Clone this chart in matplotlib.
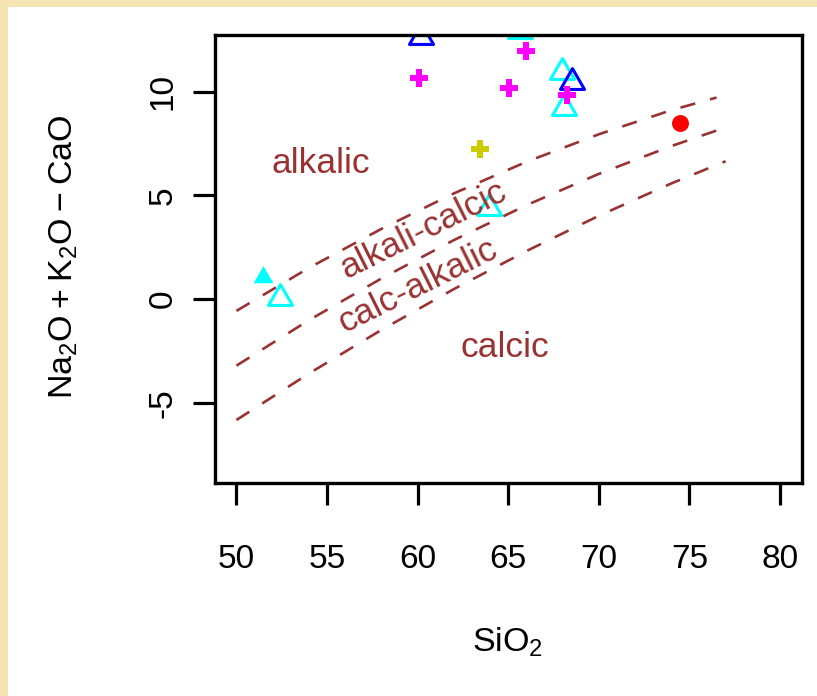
import matplotlib
matplotlib.use("Agg")
import matplotlib.pyplot as plt
from matplotlib.patches import Rectangle
from matplotlib.path import Path

plt.rcParams['font.family'] = ['Liberation Sans', 'DejaVu Sans']
plt.rcParams['axes.unicode_minus'] = False

# boundary curves (dashed)
bnd1_x = [50, 54, 58, 62, 66, 70, 74, 76.5]
bnd1_y = [-0.56, 1.51, 3.39, 5.10, 6.62, 7.95, 9.11, 9.72]
bnd2_x = [50, 54, 58, 62, 66, 70, 74, 76.5]
bnd2_y = [-3.20, -1.01, 1.00, 2.85, 4.53, 6.04, 7.38, 8.13]
bnd3_x = [50, 54, 58, 62, 66, 70, 74, 77]
bnd3_y = [-5.82, -3.58, -1.48, 0.49, 2.32, 4.02, 5.58, 6.65]

# samples
cyan_open_x = [65.65, 67.96, 68.06, 63.92, 52.39]
cyan_open_y = [12.93, 10.96, 9.21, 4.42, 0.06]
cyan_fill_x = [51.44]
cyan_fill_y = [1.07]
blue_open_x = [60.16, 68.53]
blue_open_y = [12.64, 10.49]
magenta_x = [65.97, 60.08, 65.03, 68.26]
magenta_y = [11.96, 10.67, 10.19, 9.86]
yellow_x = [63.44]
yellow_y = [7.24]
red_x = [74.47]
red_y = [8.47]

xticks = [50, 55, 60, 65, 70, 75, 80]
yticks = [-5, 0, 5, 10]

brown = '#993333'
W, H = 817, 696

fig = plt.figure(figsize=(W / 100, H / 100), dpi=100, facecolor='#F6E4B2')
fig.patches.append(Rectangle((8 / W, 0), 1, 1 - 7 / H, transform=fig.transFigure,
                             facecolor='white', edgecolor='none', zorder=-1))

ax = fig.add_axes([214.7 / W, 1 - 483.3 / H, 587 / W, 448 / H])

for bx, by in [(bnd1_x, bnd1_y), (bnd2_x, bnd2_y), (bnd3_x, bnd3_y)]:
    ax.plot(bx, by, color=brown, lw=1.9, linestyle=(0, (5.8, 5.8)))

tri = Path.unit_regular_polygon(3)
ax.plot(cyan_open_x, cyan_open_y, ls='none', marker=tri, ms=20, mfc='none',
        mec='#00FFFF', mew=2.2)
ax.plot(cyan_fill_x, cyan_fill_y, ls='none', marker=tri, ms=16.5, mfc='#00FFFF',
        mec='none')
ax.plot(blue_open_x, blue_open_y, ls='none', marker=tri, ms=20, mfc='none',
        mec='#0000FF', mew=2.2)
ax.plot(magenta_x, magenta_y, ls='none', marker='P', ms=12.5, color='#FF00FF', mew=0)
ax.plot(yellow_x, yellow_y, ls='none', marker='P', ms=12.5, color='#CCCC00', mew=0)
ax.plot(red_x, red_y, ls='none', marker='o', ms=12.2, color='#FF0000', mew=0)

ax.text(54.65, 6.08, 'alkalic', color=brown, fontsize=25.5, ha='center', va='baseline')
ax.text(64.83, -2.79, 'calcic', color=brown, fontsize=25.5, ha='center', va='baseline')
ax.text(60.33, 3.33, 'alkali-calcic', color=brown, fontsize=25.5, rotation=26.5,
        rotation_mode='anchor', ha='center', va='center')
ax.text(60.0, 0.64, 'calc-alkalic', color=brown, fontsize=25.5, rotation=26.5,
        rotation_mode='anchor', ha='center', va='center')

ax.set_xlim(48.8, 81.2)
ax.set_ylim(-8.87, 12.72)
ax.set_xticks(xticks)
ax.set_xticklabels([str(t) for t in xticks], fontsize=24)
ax.set_yticks(yticks)
ax.set_yticklabels([str(t) for t in yticks], fontsize=24, rotation=90, va='center')
ax.tick_params(axis='x', direction='out', length=15.8, width=2.3, pad=28)
ax.tick_params(axis='y', direction='out', length=15.8, width=2.3, pad=10)
for s in ax.spines.values():
    s.set_linewidth(2.4)

fig.text(508 / W, 1 - 652 / H, r'$\mathregular{SiO_2}$', fontsize=24.5,
         ha='center', va='baseline')
fig.text(73 / W, 1 - 257 / H, r'$\mathregular{Na_2O+K_2O-CaO}$', fontsize=24.5,
         rotation=90, rotation_mode='anchor', ha='center', va='baseline')

fig.savefig('out.png', dpi=100, facecolor=fig.get_facecolor())
